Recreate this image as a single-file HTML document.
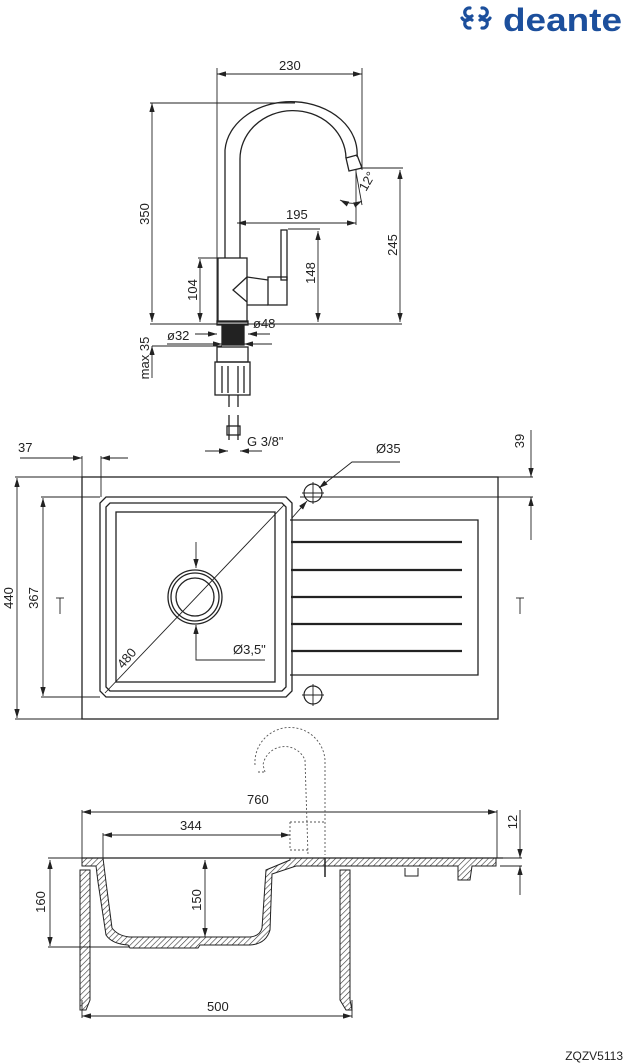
<!DOCTYPE html>
<html><head><meta charset="utf-8"><style>
html,body{margin:0;padding:0;background:#fff}
svg{display:block}
text{font-family:"Liberation Sans",sans-serif;font-size:13px;fill:#222}
</style></head><body>
<svg width="625" height="1064" viewBox="0 0 625 1064" xmlns="http://www.w3.org/2000/svg">
<defs>
<marker id="a" viewBox="0 0 10 6" refX="10" refY="3" markerWidth="10" markerHeight="6" orient="auto-start-reverse"><path d="M0,0L10,3L0,6z" fill="#222"/></marker>
<pattern id="h" width="4" height="4" patternUnits="userSpaceOnUse" patternTransform="rotate(45)"><line x1="0" y1="0" x2="0" y2="4" stroke="#333" stroke-width="1.2"/></pattern>
</defs>
<!-- logo -->
<g fill="none" stroke="#1c4f9c" stroke-width="3.2" stroke-linecap="round">
<path d="M470,8 a4.5,4.5 0 1 0 2,8"/>
<path d="M482,8 a4.5,4.5 0 1 1 -2,8"/>
<path d="M470,28 a4.5,4.5 0 1 1 2,-8"/>
<path d="M482,28 a4.5,4.5 0 1 0 -2,-8"/>
<path d="M462,18 a4.5,4.5 0 0 0 8,0"/>
<path d="M482,18 a4.5,4.5 0 0 0 8,0"/>
</g>
<text x="503" y="31" textLength="119" lengthAdjust="spacingAndGlyphs" style="font-size:32px;font-weight:bold;fill:#1c4f9c">deante</text>
<g stroke="#222" fill="none" stroke-width="0.9">
<!-- faucet dims -->
<line x1="217" y1="74" x2="362" y2="74" marker-start="url(#a)" marker-end="url(#a)"/>
<line x1="217" y1="68" x2="217" y2="325"/><line x1="362" y1="68" x2="362" y2="170"/>
<line x1="152" y1="103" x2="152" y2="322" marker-start="url(#a)" marker-end="url(#a)"/>
<line x1="150" y1="103" x2="295" y2="103"/>
<line x1="237" y1="223" x2="356" y2="223" marker-start="url(#a)" marker-end="url(#a)"/>
<line x1="356" y1="170" x2="356" y2="225"/>
<line x1="400" y1="170" x2="400" y2="322" marker-start="url(#a)" marker-end="url(#a)"/>
<line x1="360" y1="168" x2="403" y2="168"/>
<line x1="318" y1="231" x2="318" y2="322" marker-start="url(#a)" marker-end="url(#a)"/>
<line x1="288" y1="229" x2="320" y2="229"/>
<line x1="200" y1="259" x2="200" y2="322" marker-start="url(#a)" marker-end="url(#a)"/>
<line x1="198" y1="258" x2="218" y2="258"/>
<line x1="150" y1="324" x2="402" y2="324"/>
<line x1="167" y1="344" x2="222" y2="344" marker-end="url(#a)"/><line x1="272" y1="344" x2="244" y2="344" marker-end="url(#a)"/>
<line x1="195" y1="334" x2="217" y2="334" marker-end="url(#a)"/><line x1="270" y1="334" x2="248" y2="334" marker-end="url(#a)"/>
<line x1="152" y1="346" x2="222" y2="346"/>
<line x1="152" y1="346" x2="152" y2="378" marker-start="url(#a)"/>
<path d="M340,200 Q352,206 362,201" marker-start="url(#a)" marker-end="url(#a)"/>
<line x1="356" y1="172" x2="362" y2="205"/>
<line x1="205" y1="451" x2="228" y2="451" marker-end="url(#a)"/><line x1="262" y1="451" x2="240" y2="451" marker-end="url(#a)"/>
<!-- faucet -->
<g stroke-width="1.3">
<path d="M225,258 V150 A60,47 0 0 1 357,157"/>
<path d="M240,258 V160 A46,42 0 0 1 346,158"/>
<path d="M346,158 L357,155 L362,168 L349,171 Z"/>
<rect x="218" y="258" width="29" height="64"/>
<rect x="281" y="230" width="6" height="50"/>
<rect x="268" y="277" width="19" height="28"/>
<path d="M247,277 L268,280 M247,305 L268,305 M247,277 L233,290 L247,302"/>
<rect x="217" y="321" width="31" height="4"/>
<rect x="222" y="325" width="22" height="20" fill="#222"/>
<rect x="217" y="347" width="31" height="15"/>
<rect x="215" y="362" width="35" height="33"/>
<path d="M222,366V393M228,366V393M238,366V393M244,366V393"/>
<path d="M229,395V407M238,395V407M229,415V440M238,415V440"/>
<rect x="227" y="426" width="13" height="9"/>
</g>
<!-- top view -->
<line x1="20" y1="458" x2="82" y2="458" marker-end="url(#a)"/><line x1="128" y1="458" x2="101" y2="458" marker-end="url(#a)"/>
<line x1="82" y1="456" x2="82" y2="477"/><line x1="101" y1="456" x2="101" y2="497"/>
<line x1="17" y1="478" x2="17" y2="718" marker-start="url(#a)" marker-end="url(#a)"/>
<line x1="15" y1="477" x2="82" y2="477"/><line x1="15" y1="719" x2="82" y2="719"/>
<line x1="43" y1="498" x2="43" y2="696" marker-start="url(#a)" marker-end="url(#a)"/>
<line x1="41" y1="497" x2="100" y2="497"/><line x1="41" y1="697" x2="100" y2="697"/>
<line x1="531" y1="430" x2="531" y2="477" marker-end="url(#a)"/><line x1="531" y1="540" x2="531" y2="497" marker-end="url(#a)"/>
<line x1="498" y1="477" x2="533" y2="477"/><line x1="300" y1="497" x2="533" y2="497"/>
<path d="M400,462 H352 L319,488" marker-end="url(#a)"/>
<line x1="292" y1="518" x2="307" y2="501" marker-end="url(#a)"/>
<line x1="105" y1="693" x2="284" y2="505"/>
<line x1="196" y1="542" x2="196" y2="568" marker-end="url(#a)"/>
<line x1="196" y1="650" x2="196" y2="625" marker-end="url(#a)"/>
<path d="M196,625 V660 H265"/>
<line x1="60" y1="598" x2="60" y2="614"/><line x1="56" y1="598" x2="64" y2="598"/>
<line x1="520" y1="598" x2="520" y2="614"/><line x1="516" y1="598" x2="524" y2="598"/>
<g stroke-width="1.3">
<rect x="82" y="477" width="416" height="242"/>
<path d="M106,497 H286 L292,503 V691 L286,697 H106 L100,691 V503 Z"/>
<path d="M110,503 H282 L286,507 V687 L282,691 H110 L106,687 V507 Z"/>
<rect x="116" y="512" width="159" height="170"/>
<path d="M290,520 H478 V675 H290"/>
<circle cx="195" cy="597" r="27"/><circle cx="195" cy="597" r="24"/><circle cx="195" cy="597" r="19"/>
</g>
<circle cx="313" cy="493" r="9" stroke-width="1.2"/><line x1="302" y1="493" x2="324" y2="493"/><line x1="313" y1="482" x2="313" y2="504"/>
<circle cx="313" cy="695" r="9" stroke-width="1.2"/><line x1="302" y1="695" x2="324" y2="695"/><line x1="313" y1="684" x2="313" y2="706"/>
<g stroke-width="2.2">
<line x1="291" y1="542" x2="462" y2="542"/><line x1="291" y1="570" x2="462" y2="570"/><line x1="291" y1="597" x2="462" y2="597"/><line x1="291" y1="624" x2="462" y2="624"/><line x1="291" y1="651" x2="462" y2="651"/>
</g>
<!-- side view -->
<line x1="82" y1="812" x2="497" y2="812" marker-start="url(#a)" marker-end="url(#a)"/>
<line x1="82" y1="810" x2="82" y2="860"/><line x1="497" y1="810" x2="497" y2="858"/>
<line x1="103" y1="835" x2="290" y2="835" marker-start="url(#a)" marker-end="url(#a)"/>
<line x1="103" y1="833" x2="103" y2="860"/>
<line x1="520" y1="810" x2="520" y2="858" marker-end="url(#a)"/><line x1="520" y1="895" x2="520" y2="866" marker-end="url(#a)"/>
<line x1="500" y1="858" x2="522" y2="858"/><line x1="500" y1="866" x2="522" y2="866"/>
<line x1="50" y1="860" x2="50" y2="946" marker-start="url(#a)" marker-end="url(#a)"/>
<line x1="48" y1="858" x2="100" y2="858"/><line x1="48" y1="947" x2="130" y2="947"/>
<line x1="205" y1="860" x2="205" y2="937" marker-start="url(#a)" marker-end="url(#a)"/>
<line x1="82" y1="1016" x2="352" y2="1016" marker-start="url(#a)" marker-end="url(#a)"/>
<line x1="82" y1="1000" x2="82" y2="1018"/><line x1="352" y1="1000" x2="352" y2="1018"/>
<line x1="82" y1="858" x2="503" y2="858" stroke-width="1.3"/>
<g stroke-width="1" fill="url(#h)">
<path d="M82,858 H103 L106,882 L112,928 Q118,936 130,937 H250 Q260,936 262,928 L266,870 L290,860 L290,858 H496 V866 L472,866 L470,880 L458,880 V866 H296 L272,874 L270,930 Q266,944 250,945 H200 L198,948 H130 L128,945 Q112,944 106,935 L98,882 L96,866 H82 Z"/>
<path d="M80,870 H90 V1000 L86,1010 H80 Z"/>
<path d="M340,870 H350 V1000 L352,1010 H346 L340,1000 Z"/>
</g>
<path d="M405,868 V876 H418 V868" stroke-width="1"/>
<path d="M325,858 V877" stroke-width="1.5"/>
<g stroke-dasharray="2,2" stroke="#555">
<path d="M265,772 L263,765 A22,22 0 0 1 305,760 L308,855 M258,772 H266 M255,765 A30,30 0 0 1 325,760 V855 M290,822 H325 M290,822 V850 H310"/>
</g>
</g>
<g>
<text x="279" y="70">230</text>
<text x="286" y="219">195</text>
<text transform="translate(149,214) rotate(-90)" text-anchor="middle">350</text>
<text transform="translate(397,245) rotate(-90)" text-anchor="middle">245</text>
<text transform="translate(315,273) rotate(-90)" text-anchor="middle">148</text>
<text transform="translate(197,290) rotate(-90)" text-anchor="middle">104</text>
<text transform="translate(149,358) rotate(-90)" text-anchor="middle">max 35</text>
<text x="253" y="328">ø48</text>
<text x="167" y="340">ø32</text>
<text transform="translate(366,192) rotate(-60)">12°</text>
<text x="247" y="446">G 3/8"</text>
<text x="18" y="452">37</text>
<text x="376" y="453">Ø35</text>
<text transform="translate(524,441) rotate(-90)" text-anchor="middle">39</text>
<text transform="translate(13,598) rotate(-90)" text-anchor="middle">440</text>
<text transform="translate(38,598) rotate(-90)" text-anchor="middle">367</text>
<text transform="translate(130,661) rotate(-50)" text-anchor="middle">480</text>
<text x="233" y="654">Ø3,5"</text>
<text x="247" y="804">760</text>
<text x="180" y="830">344</text>
<text transform="translate(517,822) rotate(-90)" text-anchor="middle">12</text>
<text transform="translate(45,902) rotate(-90)" text-anchor="middle">160</text>
<text transform="translate(201,900) rotate(-90)" text-anchor="middle">150</text>
<text x="207" y="1011">500</text>
<text x="623" y="1060" text-anchor="end" style="font-size:12px">ZQZV5113</text>
</g>
</svg>
</body></html>
